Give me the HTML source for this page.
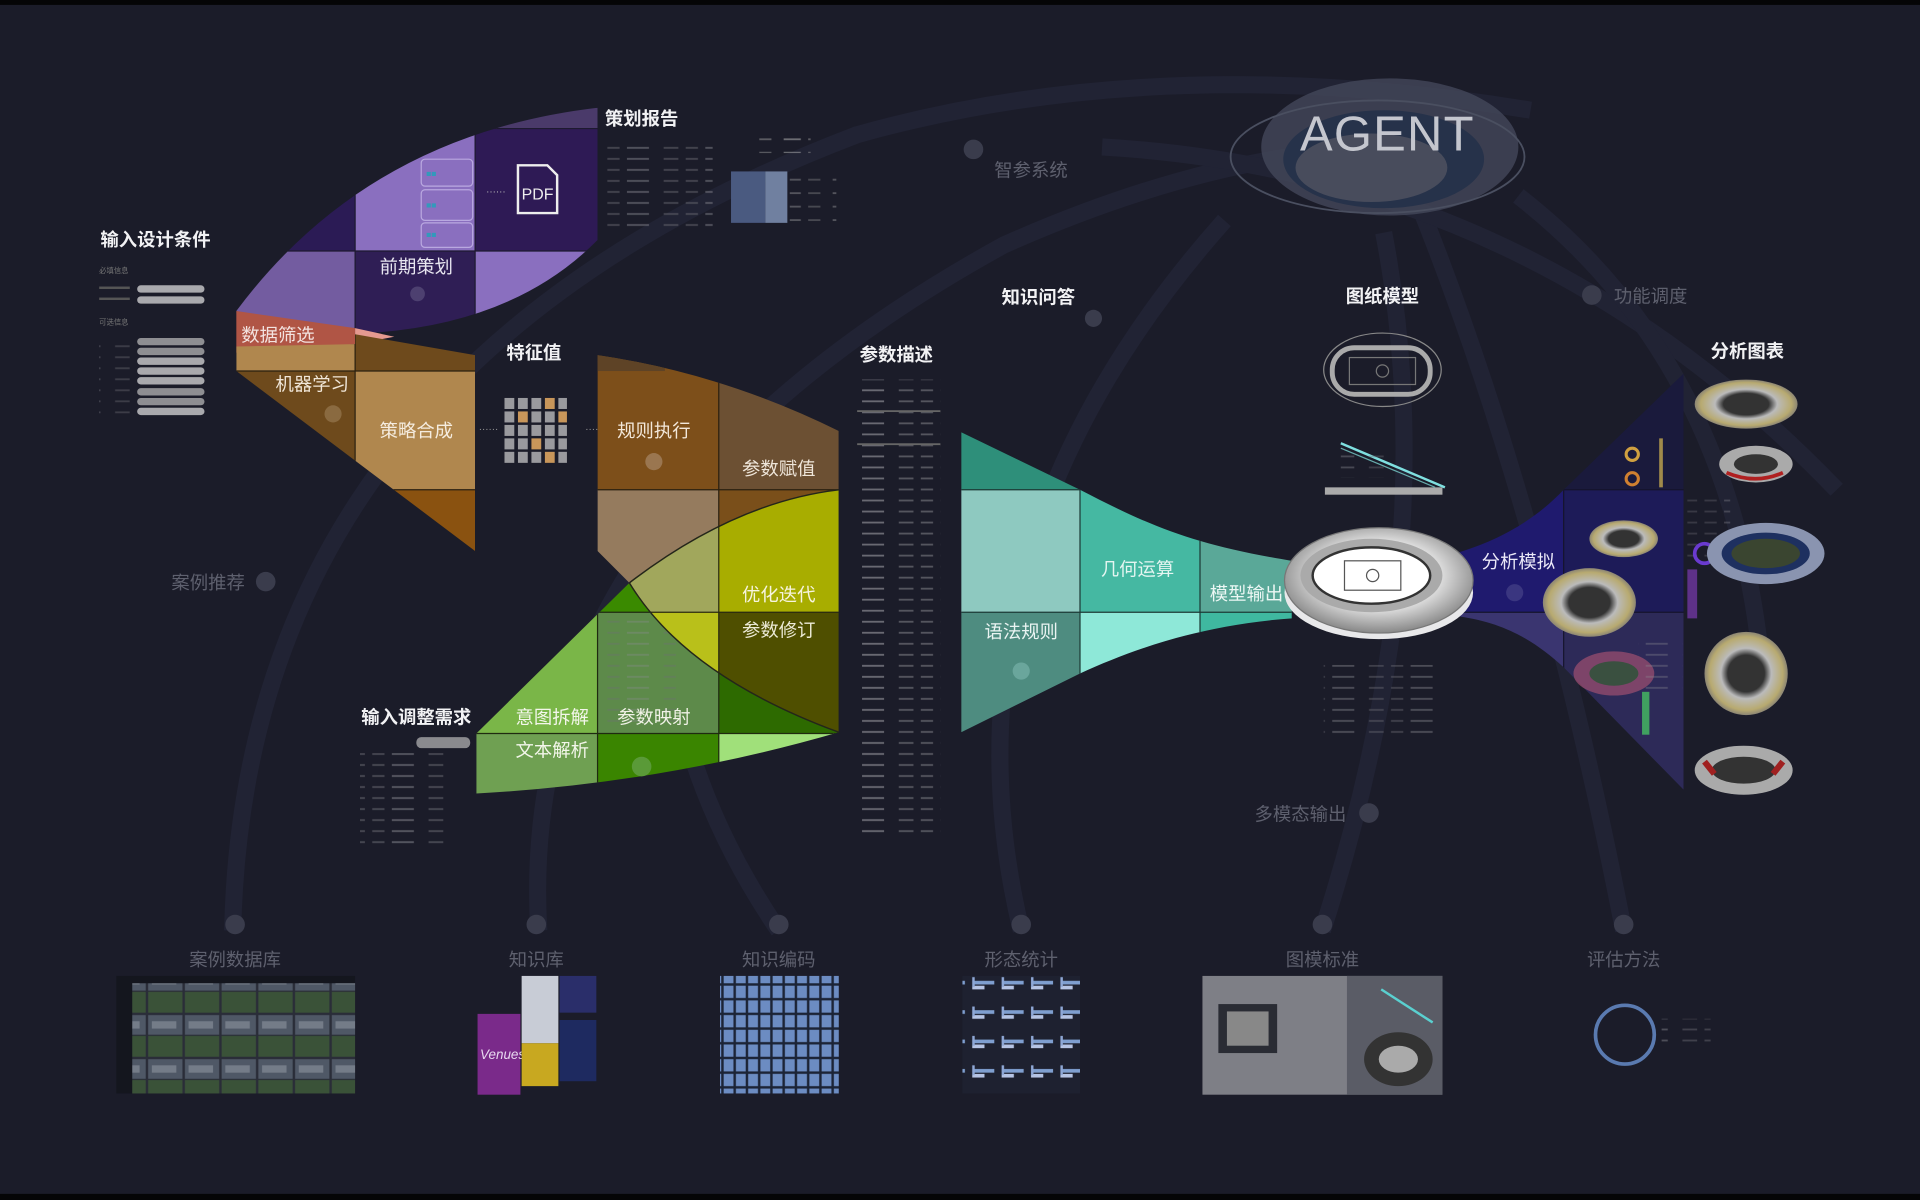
<!DOCTYPE html>
<html><head><meta charset="utf-8"><style>
html,body{margin:0;padding:0;background:#1b1c29;}
svg{display:block;}
text{font-family:"Liberation Sans","Noto Sans CJK SC",sans-serif;}
</style></head><body>
<svg width="1920" height="1200" viewBox="0 0 1568 980" preserveAspectRatio="none" xmlns="http://www.w3.org/2000/svg">
<defs>
<pattern id="tl" width="64" height="9" patternUnits="userSpaceOnUse">
<rect x="0" y="3" width="18" height="1.5" fill="#8a8a92"/><rect x="30" y="3" width="12" height="1.5" fill="#6d6d75"/><rect x="48" y="3" width="10" height="1.5" fill="#6d6d75"/></pattern>
<pattern id="tl2" width="40" height="11" patternUnits="userSpaceOnUse">
<rect x="0" y="3" width="14" height="1.5" fill="#bbb"/><rect x="20" y="3" width="10" height="1.5" fill="#999"/></pattern>
<pattern id="photos" width="30" height="36" patternUnits="userSpaceOnUse">
<rect width="30" height="36" fill="#2a2d38"/><rect x="1" y="1" width="28" height="16" fill="#4f5866"/><rect x="1" y="18" width="28" height="17" fill="#3a5238"/><rect x="4" y="6" width="20" height="6" fill="#747c88"/></pattern>
<pattern id="blue" width="10" height="12" patternUnits="userSpaceOnUse">
<rect width="10" height="12" fill="#1c2436"/><rect x="1" y="1" width="8" height="10" fill="#6c8cc2"/></pattern>
<pattern id="bars" width="24" height="24" patternUnits="userSpaceOnUse">
<rect width="24" height="24" fill="#1e2130"/><rect x="2" y="9" width="18" height="3" fill="#7f9fd0"/><rect x="2" y="13" width="10" height="3" fill="#b6c4e4"/><rect x="2" y="6" width="2" height="8" fill="#8fa8d6"/></pattern>
<clipPath id="leaf"><path d="M193,254 Q300,110 488,88 L488,196 Q420,265 300,272 Q240,270 193,254 Z"/></clipPath>
<clipPath id="lbrown"><path d="M193,288 L193,283 L290,281 L290,273 L388,290 L388,450 L193,303 Z"/></clipPath>
<clipPath id="rbrown"><path d="M488,290 Q590,305 685,352 L685,400 Q600,410 514,476 L488,450 Z"/></clipPath>
<clipPath id="lens"><path d="M514,476 Q600,410 685,400 L685,598 Q560,552 514,476 Z"/></clipPath>
<clipPath id="green"><path d="M389,599 L514,476 Q560,552 685,598 Q540,640 389,648 Z"/></clipPath>
<clipPath id="teal"><path d="M785,353 L882,400 C940,430 975,445 1055,458 L1055,505 C985,510 930,528 882,550 L785,598 Z"/></clipPath>
<clipPath id="purp"><path d="M1188,452 C1230,440 1258,420 1277,400 L1375,305 L1375,645 L1277,545 C1255,525 1230,508 1188,503 Z"/></clipPath>
<radialGradient id="stad" cx="50%" cy="45%" r="55%"><stop offset="0" stop-color="#fff"/><stop offset="0.6" stop-color="#ddd"/><stop offset="1" stop-color="#888"/></radialGradient>
<radialGradient id="heat" cx="50%" cy="50%" r="55%"><stop offset="0.4" stop-color="#333"/><stop offset="0.55" stop-color="#bbb"/><stop offset="0.8" stop-color="#b8aa70"/><stop offset="1" stop-color="#667"/></radialGradient>
</defs>

<rect width="1568" height="980" fill="#1b1c29"/>
<rect width="1568" height="4" fill="#050506"/>
<rect y="975" width="1568" height="5" fill="#050506"/>

<g fill="none" stroke="#212334" stroke-width="14">
<path d="M190,760 Q200,300 700,110 Q950,40 1250,90"/>
<path d="M440,760 Q420,420 820,200 Q1000,120 1150,120"/>
<path d="M636,760 Q500,560 560,330"/>
<path d="M834,760 Q760,450 1000,180"/>
<path d="M1080,760 Q1180,450 1130,190"/>
<path d="M1326,760 Q1260,420 1160,170"/>
<path d="M900,120 Q1250,140 1500,400"/>
<path d="M1240,160 Q1420,300 1440,560"/>
</g>

<g>
<ellipse cx="1135" cy="120" rx="105" ry="56" fill="#44475a" opacity="0.8"/>
<ellipse cx="1125" cy="128" rx="120" ry="46" fill="none" stroke="#4a4f60" stroke-width="1.5"/>
<ellipse cx="1130" cy="130" rx="82" ry="40" fill="#26324a"/>
<ellipse cx="1120" cy="137" rx="62" ry="28" fill="#484c5c"/>
<text x="1133" y="123" text-anchor="middle" font-family="Liberation Serif,serif" font-size="40" fill="#c4c6ce" letter-spacing="1">AGENT</text>
</g>

<g clip-path="url(#leaf)">
<rect x="190" y="80" width="100" height="125" fill="#2b1b55"/>
<rect x="190" y="205" width="100" height="80" fill="#735ca0"/>
<rect x="290" y="80" width="98" height="125" fill="#8a6fbf"/>
<rect x="290" y="205" width="98" height="80" fill="#2f1e55"/>
<rect x="388" y="80" width="100" height="25" fill="#4a3a6a"/>
<rect x="388" y="105" width="100" height="100" fill="#2e1a55"/>
<rect x="388" y="205" width="100" height="80" fill="#8a6fbf"/>
<path d="M290,80V290M388,80V290M190,205H490M388,105H490" stroke="#1e1a30" stroke-width="1"/>
</g>
<g fill="none" stroke="#b9a8e0" stroke-width="1"><rect x="344" y="130" width="42" height="22" rx="3"/><rect x="344" y="155" width="42" height="25" rx="3"/><rect x="344" y="182" width="42" height="20" rx="3"/></g>
<g font-size="7" fill="#39b" ><text x="348" y="144">■■</text><text x="348" y="170">■■</text><text x="348" y="194">■■</text></g>
<path d="M423,135 h24 l8,8 v31 h-32 z" fill="none" stroke="#eee" stroke-width="2"/>
<text x="439" y="163" text-anchor="middle" font-size="13" fill="#eee">PDF</text>
<text x="397" y="159" font-size="8" fill="#bbb">······</text>
<text x="340" y="223" text-anchor="middle" font-size="15" fill="#e8e6f0">前期策划</text>
<circle cx="341" cy="240" r="6" fill="#4d4070"/>

<polygon points="193,254 290,268 290,281 193,288" fill="#b05545"/>
<polygon points="290,268 322,275 290,281" fill="#e59a90"/>
<text x="197" y="279" font-size="15" fill="#f3e3e0">数据筛选</text>
<g clip-path="url(#lbrown)">
<rect x="190" y="280" width="100" height="23" fill="#b0874e"/>
<rect x="290" y="270" width="98" height="33" fill="#6e4a1c"/>
<rect x="190" y="303" width="100" height="160" fill="#6e4a1c"/>
<rect x="290" y="303" width="98" height="97" fill="#b0874e"/>
<rect x="290" y="400" width="98" height="60" fill="#8a5210"/>
<path d="M290,270V460M190,303H390M290,400H390" stroke="#2a2010" stroke-width="1"/>
</g>
<text x="225" y="319" font-size="15" fill="#f0e6d8">机器学习</text>
<circle cx="272" cy="338" r="7" fill="#8a6a40"/>
<text x="340" y="357" text-anchor="middle" font-size="15" fill="#f5ecdf">策略合成</text>
<text x="391" y="353" font-size="8" fill="#999">······</text>
<text x="478" y="353" font-size="8" fill="#999">······</text>

<g>
<g fill="#9a9a9e">
<rect x="412" y="325" width="8" height="9"/><rect x="423" y="325" width="8" height="9"/><rect x="434" y="325" width="8" height="9"/><rect x="456" y="325" width="7" height="9"/>
<rect x="412" y="336" width="8" height="9"/><rect x="434" y="336" width="8" height="9"/><rect x="445" y="336" width="8" height="9"/>
<rect x="412" y="347" width="8" height="9"/><rect x="423" y="347" width="8" height="9"/><rect x="434" y="347" width="8" height="9"/><rect x="445" y="347" width="8" height="9"/><rect x="456" y="347" width="7" height="9"/>
<rect x="412" y="358" width="8" height="9"/><rect x="423" y="358" width="8" height="9"/><rect x="445" y="358" width="8" height="9"/><rect x="456" y="358" width="7" height="9"/>
<rect x="412" y="369" width="8" height="9"/><rect x="423" y="369" width="8" height="9"/><rect x="434" y="369" width="8" height="9"/><rect x="456" y="369" width="7" height="9"/>
</g>
<g fill="#c8965a"><rect x="445" y="325" width="8" height="9"/><rect x="423" y="336" width="8" height="9"/><rect x="456" y="336" width="7" height="9"/><rect x="434" y="358" width="8" height="9"/><rect x="445" y="369" width="8" height="9"/></g>
</g>

<g clip-path="url(#rbrown)">
<rect x="488" y="285" width="99" height="115" fill="#7d4f1a"/>
<rect x="488" y="285" width="55" height="18" fill="#5e4326"/>
<rect x="587" y="285" width="98" height="115" fill="#6c5033"/>
<rect x="488" y="400" width="99" height="80" fill="#957b5e"/>
<rect x="587" y="400" width="98" height="80" fill="#7a4f1a"/>
<path d="M587,280V480M488,400H690" stroke="#2a2010" stroke-width="1"/>
</g>
<text x="534" y="357" text-anchor="middle" font-size="15" fill="#f3e8da">规则执行</text>
<circle cx="534" cy="377" r="7" fill="#9a7650"/>
<text x="636" y="388" text-anchor="middle" font-size="15" fill="#efe6da">参数赋值</text>

<g clip-path="url(#lens)">
<rect x="488" y="390" width="99" height="110" fill="#a1a75c"/>
<rect x="587" y="390" width="98" height="110" fill="#a8ad00"/>
<rect x="488" y="500" width="99" height="100" fill="#b9c01a"/>
<rect x="587" y="500" width="98" height="100" fill="#4f4f00"/>
<path d="M587,390V600M488,500H690" stroke="#2a2a10" stroke-width="1"/>
</g>
<g clip-path="url(#green)">
<rect x="385" y="470" width="103" height="129" fill="#7ab648"/>
<rect x="385" y="599" width="103" height="55" fill="#6fa052"/>
<rect x="488" y="470" width="99" height="30" fill="#3a8a00"/>
<rect x="488" y="500" width="99" height="99" fill="#5d8a4a"/>
<rect x="488" y="599" width="99" height="55" fill="#3a8500"/>
<rect x="587" y="470" width="98" height="129" fill="#2d6a00"/>
<rect x="587" y="599" width="98" height="55" fill="#a0e07a"/>
<rect x="492" y="505" width="60" height="90" fill="url(#tl)" opacity="0.35"/>
<path d="M488,470V660M587,470V660M385,599H690M488,500H587" stroke="#1f2a10" stroke-width="1"/>
</g>
<path d="M514,476 Q600,410 685,400 M514,476 Q560,552 685,598" fill="none" stroke="#24261a" stroke-width="1.2"/>
<text x="636" y="491" text-anchor="middle" font-size="15" fill="#f6f4de">优化迭代</text>
<text x="636" y="520" text-anchor="middle" font-size="15" fill="#ecead6">参数修订</text>
<text x="451" y="591" text-anchor="middle" font-size="15" fill="#f3f6ea">意图拆解</text>
<text x="534" y="591" text-anchor="middle" font-size="15" fill="#f0f2e6">参数映射</text>
<text x="451" y="618" text-anchor="middle" font-size="15" fill="#f3f6ea">文本解析</text>
<circle cx="524" cy="626" r="8" fill="#5a9a38"/>

<g clip-path="url(#teal)">
<rect x="780" y="340" width="102" height="60" fill="#2e8f7a"/>
<rect x="780" y="400" width="102" height="100" fill="#8ec9c0"/>
<rect x="780" y="500" width="102" height="110" fill="#4e8c80"/>
<rect x="882" y="390" width="98" height="110" fill="#45b8a2"/>
<rect x="882" y="500" width="98" height="60" fill="#8ee8d8"/>
<rect x="980" y="420" width="80" height="80" fill="#5aa898"/>
<rect x="980" y="500" width="80" height="20" fill="#3fb8a0"/>
<path d="M882,340V610M980,340V610M780,400H882M780,500H1060" stroke="#1d3a36" stroke-width="1"/>
</g>
<text x="929" y="470" text-anchor="middle" font-size="15" fill="#e4f5f1">几何运算</text>
<text x="1018" y="490" text-anchor="middle" font-size="15" fill="#ecf7f4">模型输出</text>
<text x="834" y="521" text-anchor="middle" font-size="15" fill="#eaf4f2">语法规则</text>
<circle cx="834" cy="548" r="7" fill="#6aa69c"/>

<g clip-path="url(#purp)">
<rect x="1185" y="390" width="92" height="110" fill="#1f1a6e"/>
<rect x="1185" y="500" width="92" height="150" fill="#3a3570"/>
<rect x="1277" y="300" width="98" height="100" fill="#1a1a3c"/>
<rect x="1277" y="400" width="98" height="100" fill="#1d1b58"/>
<rect x="1277" y="500" width="98" height="150" fill="#2d2a58"/>
<path d="M1277,300V650M1185,400H1375M1185,500H1375" stroke="#15142c" stroke-width="1"/>
</g>
<text x="1240" y="464" text-anchor="middle" font-size="15" fill="#ebe9f8">分析模拟</text>
<circle cx="1237" cy="484" r="7" fill="#3a3680"/>
<g>
<circle cx="1333" cy="371" r="5" fill="none" stroke="#d0a040" stroke-width="2.5"/>
<circle cx="1333" cy="391" r="5" fill="none" stroke="#d08030" stroke-width="2.5"/>
<rect x="1355" y="358" width="3" height="40" fill="#a08a4a"/>
<ellipse cx="1326" cy="440" rx="28" ry="15" fill="url(#heat)"/>
<ellipse cx="1298" cy="492" rx="38" ry="28" fill="url(#heat)"/>
<ellipse cx="1318" cy="550" rx="33" ry="18" fill="#a05070" opacity="0.7"/>
<ellipse cx="1318" cy="550" rx="20" ry="10" fill="#3a5040"/>
<rect x="1341" y="565" width="6" height="35" fill="#40a060"/>
<rect x="1338" y="520" width="36" height="45" fill="url(#tl)" opacity="0.35"/>
</g>
<g>
<ellipse cx="1426" cy="330" rx="42" ry="20" fill="url(#heat)"/>
<ellipse cx="1434" cy="379" rx="30" ry="15" fill="#aaa"/><ellipse cx="1434" cy="379" rx="18" ry="8" fill="#333"/><path d="M1410,386 Q1434,396 1456,386" stroke="#b02020" stroke-width="3" fill="none"/>
<rect x="1378" y="405" width="35" height="55" fill="url(#tl)" opacity="0.35"/>
<circle cx="1392" cy="452" r="8" fill="none" stroke="#6a3ad0" stroke-width="3"/>
<ellipse cx="1442" cy="452" rx="48" ry="25" fill="#8a94b0"/><ellipse cx="1442" cy="452" rx="36" ry="17" fill="#1e3060"/><ellipse cx="1442" cy="452" rx="28" ry="12" fill="#3a4530"/>
<rect x="1378" y="465" width="8" height="40" fill="#7a3ab0" opacity="0.7"/>
<ellipse cx="1426" cy="550" rx="34" ry="34" fill="url(#heat)"/>
<ellipse cx="1424" cy="629" rx="40" ry="20" fill="#aaa"/><ellipse cx="1424" cy="629" rx="26" ry="11" fill="#333"/><path d="M1392,622 l8,10 M1456,622 l-8,10" stroke="#a02020" stroke-width="5"/>
</g>

<g>
<ellipse cx="1126" cy="484" rx="77" ry="38" fill="#e8e8ea"/>
<ellipse cx="1126" cy="474" rx="77" ry="43" fill="url(#stad)" stroke="#777" stroke-width="1"/>
<ellipse cx="1120" cy="470" rx="58" ry="30" fill="#aaa"/>
<ellipse cx="1120" cy="470" rx="48" ry="23" fill="#fff" stroke="#333" stroke-width="2"/>
<rect x="1098" y="458" width="46" height="24" fill="none" stroke="#555" stroke-width="1"/>
<circle cx="1121" cy="470" r="5" fill="none" stroke="#555"/>
</g>

<g>
<ellipse cx="1129" cy="302" rx="48" ry="30" fill="none" stroke="#888" stroke-width="1"/>
<rect x="1088" y="284" width="80" height="38" rx="18" fill="none" stroke="#aaa" stroke-width="4"/>
<rect x="1102" y="292" width="54" height="22" fill="none" stroke="#777"/>
<circle cx="1129" cy="303" r="5" fill="none" stroke="#777"/>
<rect x="1082" y="398" width="96" height="6" fill="#aaa"/>
<path d="M1095,362 L1180,398" stroke="#7fe0e0" stroke-width="2"/>
<path d="M1095,366 L1172,398" stroke="#6aa" stroke-width="1"/>
<rect x="1095" y="370" width="40" height="20" fill="url(#tl)" opacity="0.4"/>
</g>
<rect x="1081" y="543" width="97" height="62" fill="url(#tl)" opacity="0.45"/>

<rect x="492" y="115" width="90" height="72" fill="url(#tl)" opacity="0.5"/>
<rect x="620" y="105" width="42" height="20" fill="url(#tl2)" opacity="0.5"/>
<rect x="597" y="140" width="28" height="42" fill="#4a5a80"/><rect x="625" y="140" width="18" height="42" fill="#7080a0"/>
<rect x="645" y="140" width="38" height="42" fill="url(#tl2)" opacity="0.35"/>
<rect x="700" y="310" width="68" height="375" fill="url(#tl)" opacity="0.7"/>
<rect x="700" y="335" width="68" height="1.5" fill="#666"/><rect x="700" y="362" width="68" height="1.5" fill="#666"/>
<rect x="294" y="615" width="72" height="80" fill="url(#tl)" opacity="0.55"/>
<rect x="340" y="602" width="44" height="9" rx="4" fill="#8a8a8e"/>

<g font-size="6" fill="#777">
<text x="81" y="223">必填信息</text><text x="81" y="265">可选信息</text>
<rect x="81" y="234" width="25" height="2" fill="#555"/><rect x="81" y="243" width="25" height="2" fill="#555"/>
<rect x="112" y="233" width="55" height="6" rx="3" fill="#a9a9ad"/><rect x="112" y="242" width="55" height="6" rx="3" fill="#a9a9ad"/>
<rect x="81" y="278" width="25" height="60" fill="url(#tl)" opacity="0.4"/>
<rect x="112" y="276" width="55" height="6" rx="3" fill="#8e8e92"/><rect x="112" y="284" width="55" height="6" rx="3" fill="#8e8e92"/>
<rect x="112" y="292" width="55" height="6" rx="3" fill="#a9a9ad"/><rect x="112" y="300" width="55" height="6" rx="3" fill="#a9a9ad"/>
<rect x="112" y="308" width="55" height="6" rx="3" fill="#a9a9ad"/><rect x="112" y="317" width="55" height="6" rx="3" fill="#8e8e92"/>
<rect x="112" y="325" width="55" height="6" rx="3" fill="#8e8e92"/><rect x="112" y="333" width="55" height="6" rx="3" fill="#a9a9ad"/>
</g>

<g font-size="15" font-weight="bold" fill="#f2f2f4">
<text x="127" y="201" text-anchor="middle">输入设计条件</text>
<text x="524" y="102" text-anchor="middle">策划报告</text>
<text x="436" y="293" text-anchor="middle">特征值</text>
<text x="732" y="295" text-anchor="middle">参数描述</text>
<text x="848" y="248" text-anchor="middle">知识问答</text>
<text x="1129" y="247" text-anchor="middle">图纸模型</text>
<text x="1427" y="292" text-anchor="middle">分析图表</text>
<text x="340" y="591" text-anchor="middle">输入调整需求</text>
</g>
<circle cx="893" cy="260" r="7" fill="#3a3c4c"/>

<g font-size="15" fill="#5e606e">
<text x="842" y="144" text-anchor="middle">智参系统</text>
<text x="1348" y="247" text-anchor="middle">功能调度</text>
<text x="170" y="481" text-anchor="middle">案例推荐</text>
<text x="1062" y="670" text-anchor="middle">多模态输出</text>
<text x="192" y="789" text-anchor="middle">案例数据库</text>
<text x="438" y="789" text-anchor="middle">知识库</text>
<text x="636" y="789" text-anchor="middle">知识编码</text>
<text x="834" y="789" text-anchor="middle">形态统计</text>
<text x="1080" y="789" text-anchor="middle">图模标准</text>
<text x="1326" y="789" text-anchor="middle">评估方法</text>
</g>
<g fill="#3a3c4c">
<circle cx="795" cy="122" r="8"/><circle cx="1300" cy="241" r="8"/><circle cx="217" cy="475" r="8"/><circle cx="1118" cy="664" r="8"/>
<circle cx="192" cy="755" r="8"/><circle cx="438" cy="755" r="8"/><circle cx="636" cy="755" r="8"/><circle cx="834" cy="755" r="8"/><circle cx="1080" cy="755" r="8"/><circle cx="1326" cy="755" r="8"/>
</g>

<rect x="95" y="797" width="195" height="96" fill="#14161e"/>
<rect x="108" y="803" width="182" height="90" fill="url(#photos)"/>
<rect x="390" y="828" width="35" height="66" fill="#7a2a8a"/>
<text x="392" y="865" font-size="11" fill="#e8d8f0" font-style="italic">Venues</text>
<rect x="426" y="797" width="30" height="55" fill="#c8ccd6"/>
<rect x="426" y="852" width="30" height="35" fill="#c8a820"/>
<rect x="457" y="797" width="30" height="30" fill="#2a2e6a"/>
<rect x="457" y="833" width="30" height="50" fill="#1e2a60"/>
<rect x="588" y="797" width="97" height="96" fill="url(#blue)"/>
<rect x="786" y="797" width="96" height="96" fill="url(#bars)"/>
<rect x="982" y="797" width="196" height="97" fill="#7e7f86"/>
<rect x="1100" y="797" width="78" height="97" fill="#5a5c66"/>
<rect x="995" y="820" width="48" height="40" fill="#2a2c34"/><rect x="1002" y="826" width="34" height="28" fill="#888"/>
<ellipse cx="1142" cy="865" rx="28" ry="22" fill="#333"/><ellipse cx="1142" cy="865" rx="16" ry="11" fill="#aaa"/>
<path d="M1128,808 L1170,835" stroke="#5ad0d0" stroke-width="2"/>
<circle cx="1327" cy="845" r="24" fill="none" stroke="#5a7ab0" stroke-width="3"/>
<rect x="1357" y="832" width="40" height="25" fill="url(#tl)" opacity="0.45"/>
</svg>
</body></html>
